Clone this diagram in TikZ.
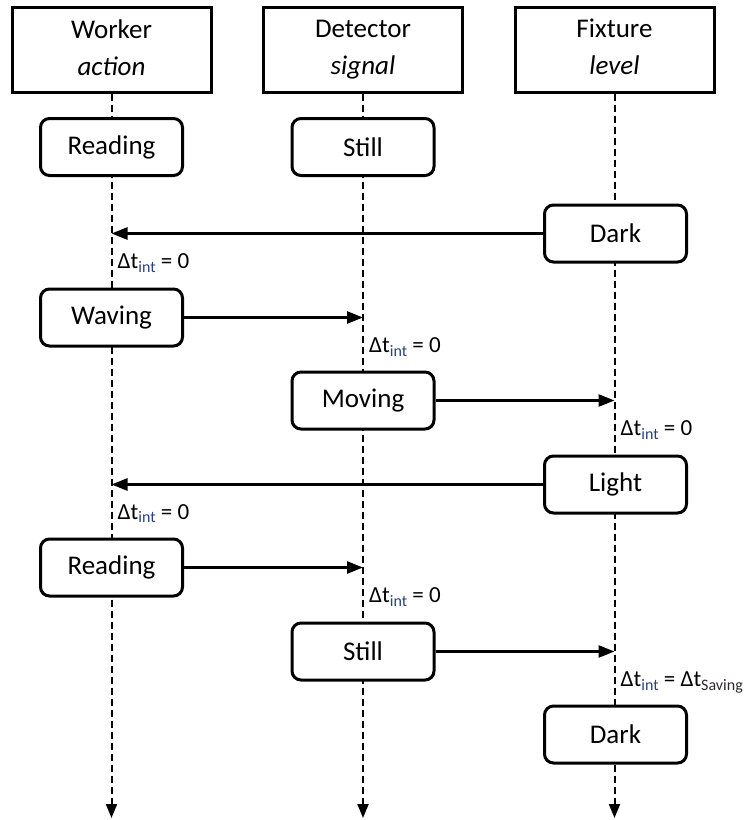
\documentclass[tikz,border=0pt]{standalone}
\usepackage{fontspec}
\setmainfont{Carlito}
\usetikzlibrary{arrows.meta}
\definecolor{subblue}{RGB}{40,66,125}
\definecolor{subdark}{RGB}{45,40,45}
% subscript helper for the delay labels
\newcommand{\lowsub}[2]{\raisebox{-0.32ex}{\fontsize{16}{16}\selectfont\color{#1}#2}}
\newcommand{\dtint}{Δt\lowsub{subblue}{int}}
\begin{document}
\begin{tikzpicture}[x=1pt,y=-1pt,
  header/.style={draw, line width=3pt, fill=white, minimum width=199pt, minimum height=85pt,
    inner sep=0pt, align=center, font=\fontsize{27}{37}\selectfont},
  state/.style={draw, line width=3pt, rounded corners=9pt, fill=white, minimum width=142pt,
    minimum height=57pt, inner sep=0pt, font=\fontsize{27}{32}\selectfont},
  lifeline/.style={line width=2pt, dash pattern=on 7pt off 4pt, -{Triangle[length=14pt,width=11pt]}},
  msg/.style={line width=2.6pt, -{Triangle[length=16pt,width=12pt]}},
  delay/.style={anchor=base west, inner sep=0pt, font=\fontsize{23}{28}\selectfont}]

\useasboundingbox (0,0) rectangle (746,820);

% lifeline x positions
\def\xw{111.5}
\def\xd{363}
\def\xf{614.5}

% participants
\node[header] (worker) at (\xw,49.5) {Worker\\\textit{action}\vphantom{g}};
\node[header] (detector) at (\xd,49.5) {Detector\\\textit{signal}};
\node[header] (fixture) at (\xf,49.5) {Fixture\\\textit{level}\vphantom{g}};

% lifeline ends
\coordinate (wend) at (\xw,818);
\coordinate (dend) at (\xd,818);
\coordinate (fend) at (\xf,818);
\draw[lifeline] (worker.south) -- (wend);
\draw[lifeline] (detector.south) -- (dend);
\draw[lifeline] (fixture.south) -- (fend);

% states
\node[state] (reading1) at (\xw,147) {Reading};
\node[state] (still1) at (\xd,147) {Still};
\node[state] (dark1) at (615.5,233.5) {Dark};
\node[state] (waving) at (\xw,317.5) {Waving};
\node[state] (moving) at (\xd,400.5) {Moving};
\node[state] (light) at (615.5,484.5) {Light};
\node[state] (reading2) at (\xw,567.5) {Reading};
\node[state] (still2) at (\xd,651.5) {Still};
\node[state] (dark2) at (615.5,734.5) {Dark};

% message targets on the lifelines
\coordinate (m1) at (\xw,233.5);
\coordinate (m2) at (\xd,317.5);
\coordinate (m3) at (\xf,400.5);
\coordinate (m4) at (\xw,484.5);
\coordinate (m5) at (\xd,567.5);
\coordinate (m6) at (\xf,651.5);

\draw[msg] (dark1.west) -- (m1);
\draw[msg] (waving.east) -- (m2);
\draw[msg] (moving.east) -- (m3);
\draw[msg] (light.west) -- (m4);
\draw[msg] (reading2.east) -- (m5);
\draw[msg] (still2.east) -- (m6);

% interaction delays
\node[delay] (d1) at (\xw+6,268.5) {\dtint{} = 0};
\node[delay] (d2) at (\xd+6,352.5) {\dtint{} = 0};
\node[delay] (d3) at (\xf+6,435.5) {\dtint{} = 0};
\node[delay] (d4) at (\xw+6,519) {\dtint{} = 0};
\node[delay] (d5) at (\xd+6,602.5) {\dtint{} = 0};
\node[delay] (d6) at (\xf+6,686.5) {\dtint{} = Δt\lowsub{subdark}{Saving}};

\end{tikzpicture}
\end{document}
